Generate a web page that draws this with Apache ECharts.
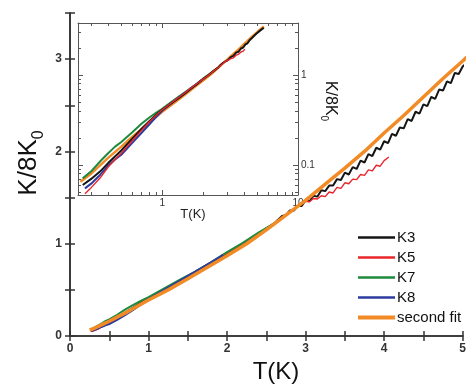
<!DOCTYPE html>
<html><head><meta charset="utf-8">
<script src="https://cdn.jsdelivr.net/npm/echarts@6/dist/echarts.min.js"></script>
<style>html,body{margin:0;padding:0;background:#fff}#c{width:469px;height:384px}</style>
</head><body><div id="c"></div>
<script>
// ---- data ----
const seriesNames = ['K3', 'K5', 'K7', 'K8', 'second fit'];

const k3T = [0.26,0.3,0.35,0.4,0.5,0.6,0.7,0.8,0.9,1.0,1.2,1.4,1.6,1.8,2.0,2.2,2.4,2.6,2.65,2.7,2.75,2.8,2.85,2.9,2.95,3.0,3.05,3.1,3.15,3.2,3.25,3.3,3.35,3.4,3.45,3.5,3.55,3.6,3.65,3.7,3.75,3.8,3.85,3.9,3.95,4.0,4.05,4.1,4.15,4.2,4.25,4.3,4.35,4.4,4.45,4.5,4.55,4.6,4.65,4.7,4.75,4.8,4.85,4.9,4.95,5.0,5.1,5.2,5.3,5.4,5.5,5.6];
const k3Y = [0.06,0.07,0.085,0.105,0.145,0.195,0.25,0.305,0.36,0.41,0.5,0.59,0.69,0.79,0.9,1.0,1.11,1.22,1.26,1.30,1.31,1.36,1.36,1.41,1.41,1.47,1.46,1.52,1.51,1.58,1.57,1.63,1.63,1.70,1.69,1.77,1.75,1.83,1.81,1.90,1.88,1.97,1.95,2.04,2.02,2.11,2.09,2.19,2.17,2.26,2.25,2.35,2.33,2.43,2.41,2.51,2.49,2.59,2.57,2.67,2.66,2.76,2.74,2.85,2.84,2.92,3.0,3.07,3.14,3.21,3.28,3.35];

const k5T = [0.27,0.3,0.35,0.4,0.45,0.5,0.6,0.7,0.8,0.9,1.0,1.2,1.4,1.6,1.8,2.0,2.2,2.4,2.6,2.8,2.9,2.95,3.0,3.05,3.1,3.15,3.2,3.25,3.3,3.35,3.4,3.45,3.5,3.55,3.6,3.65,3.7,3.75,3.8,3.85,3.9,3.95,4.0,4.06];
const k5Y = [0.048,0.056,0.072,0.095,0.115,0.135,0.185,0.24,0.3,0.355,0.41,0.505,0.6,0.7,0.8,0.9,1.0,1.11,1.22,1.34,1.41,1.43,1.46,1.455,1.49,1.485,1.52,1.51,1.56,1.55,1.61,1.60,1.66,1.65,1.70,1.695,1.75,1.74,1.80,1.79,1.85,1.84,1.90,1.94];

const k7T = [0.26,0.3,0.35,0.4,0.45,0.5,0.6,0.7,0.8,0.9,1.0,1.2,1.4,1.6,1.8,2.0,2.2,2.4,2.6];
const k7Y = [0.071,0.085,0.11,0.135,0.16,0.18,0.23,0.285,0.335,0.38,0.42,0.515,0.61,0.7,0.8,0.91,1.01,1.12,1.22];

const k8T = [0.27,0.3,0.35,0.4,0.45,0.5,0.6,0.7,0.8,0.9,1.0,1.2,1.4,1.6,1.8,1.95];
const k8Y = [0.055,0.062,0.078,0.098,0.115,0.13,0.175,0.225,0.28,0.34,0.4,0.5,0.6,0.7,0.8,0.88];

const fitT = [0.25,0.3,0.4,0.5,0.6,0.75,1.0,1.25,1.5,1.75,2.0,2.25,2.5,2.75,3.0,3.25,3.5,3.75,4.0,4.25,4.5,4.75,5.0,5.3,5.6];
const fitY = [0.065,0.08,0.12,0.16,0.205,0.27,0.39,0.5,0.62,0.745,0.87,1.0,1.15,1.31,1.47,1.645,1.82,2.0,2.2,2.39,2.59,2.79,2.98,3.22,3.45];

// inset tick values
const insetXLabels = [1, 10];
const insetXMinor = [0.3,0.4,0.5,0.6,0.7,0.8,0.9,2,3,4,5,6,7,8,9];
const insetYLabels = [0.1, 1];
const insetYMinor = [0.05,0.06,0.07,0.08,0.09,0.2,0.3,0.4,0.5,0.6,0.7,0.8,0.9,2,3];

// ---- chart ----
const FONT = "'Liberation Sans', Arial, sans-serif";
const colors = {K3:'#151515', K5:'#e8262b', K7:'#1e8a3e', K8:'#2d3c9e', 'second fit':'#f28a25'};
const widths = {K3:2, K5:1.4, K7:2, K8:2, 'second fit':3.5};
const dataOf = {K3:[k3T,k3Y], K5:[k5T,k5Y], K7:[k7T,k7Y], K8:[k8T,k8Y], 'second fit':[fitT,fitY]};
function pairs(name){ const [t,y]=dataOf[name]; return t.map((v,i)=>[v,y[i]]); }

const intFmt = v => (Math.abs(v - Math.round(v)) < 1e-9 ? String(Math.round(v)) : '');
const axCol = '#333';
const mainLine = () => ({show:true, lineStyle:{color:axCol, width:1.6}});
const mainTick = () => ({show:true, inside:false, length:-5, lineStyle:{color:axCol, width:1.5}});
const inCol = '#555';
const inLine = () => ({show:true, lineStyle:{color:inCol, width:1}});
const tk = (vals, len, inside) => ({show:true, inside:inside, length:len, customValues:vals, lineStyle:{color:inCol, width:1}});
const XR = [0.24, 10], YR = [0.0464, 3.78];
const hiddenX = gi => ({gridIndex:gi, type:'log', min:XR[0], max:XR[1], show:false});
const hiddenY = gi => ({gridIndex:gi, type:'log', min:YR[0], max:YR[1], show:false});

const IN = {left:78, top:23, width:220, height:172};
const grids = [
  {left:70, top:13, width:399, height:323},
  {left:IN.left, top:IN.top, width:IN.width, height:IN.height, show:true, backgroundColor:'#fff', borderWidth:0},
  {left:IN.left, top:IN.top, width:IN.width, height:IN.height},
  {left:IN.left+IN.width, top:IN.top, width:60, height:IN.height},
  {left:IN.left+IN.width, top:IN.top, width:60, height:IN.height},
  {left:IN.left, top:IN.top-10, width:IN.width, height:10},
  {left:IN.left, top:IN.top-10, width:IN.width, height:10}
];

const xAxes = [
  {gridIndex:0, type:'value', min:0, max:5, interval:0.5, position:'bottom', axisLine:mainLine(), axisTick:mainTick(), splitLine:{show:false},
   axisLabel:{formatter:intFmt, margin:7, fontSize:12, fontWeight:'bold', color:axCol, fontFamily:FONT}},
  {gridIndex:0, type:'value', min:0, max:5, interval:0.5, position:'top', axisLine:mainLine(), axisTick:mainTick(), splitLine:{show:false}, axisLabel:{show:false}},
  {gridIndex:1, type:'log', min:XR[0], max:XR[1], position:'bottom', axisLine:inLine(), splitLine:{show:false},
   axisTick:tk(insetXLabels,5,true), axisLabel:{customValues:insetXLabels, margin:3, fontSize:10, color:'#333', fontFamily:FONT}},
  {gridIndex:2, type:'log', min:XR[0], max:XR[1], position:'bottom', axisLine:{show:false}, splitLine:{show:false},
   axisTick:tk(insetXMinor,3,true), axisLabel:{show:false}},
  hiddenX(3), hiddenX(4),
  {gridIndex:5, type:'log', min:XR[0], max:XR[1], position:'bottom', axisLine:inLine(), splitLine:{show:false},
   axisTick:tk(insetXLabels,5,false), axisLabel:{show:false}},
  {gridIndex:6, type:'log', min:XR[0], max:XR[1], position:'bottom', axisLine:{show:false}, splitLine:{show:false},
   axisTick:tk(insetXMinor,3,false), axisLabel:{show:false}}
];
const yAxes = [
  {gridIndex:0, type:'value', min:0, max:3.5, interval:0.5, position:'left', axisLine:mainLine(), axisTick:mainTick(), splitLine:{show:false},
   axisLabel:{formatter:intFmt, margin:8, fontSize:12, fontWeight:'bold', color:axCol, fontFamily:FONT}},
  {gridIndex:0, type:'value', min:0, max:3.5, interval:0.5, position:'right', axisLine:mainLine(), axisTick:mainTick(), splitLine:{show:false}, axisLabel:{show:false}},
  {gridIndex:1, type:'log', min:YR[0], max:YR[1], position:'left', axisLine:inLine(), splitLine:{show:false},
   axisTick:tk(insetYLabels,5,true), axisLabel:{show:false}},
  {gridIndex:2, type:'log', min:YR[0], max:YR[1], position:'left', axisLine:{show:false}, splitLine:{show:false},
   axisTick:tk(insetYMinor,3,true), axisLabel:{show:false}},
  {gridIndex:3, type:'log', min:YR[0], max:YR[1], position:'left', axisLine:inLine(), splitLine:{show:false},
   axisTick:tk(insetYLabels,5,false),
   axisLabel:{customValues:insetYLabels, inside:true, margin:3, fontSize:10, color:'#333', fontFamily:FONT}},
  {gridIndex:4, type:'log', min:YR[0], max:YR[1], position:'left', axisLine:{show:false}, splitLine:{show:false},
   axisTick:tk(insetYMinor,3,false), axisLabel:{show:false}},
  hiddenY(5), hiddenY(6)
];

const series = [];
seriesNames.forEach(n => series.push({
  name:n, type:'line', xAxisIndex:0, yAxisIndex:0, data:pairs(n), symbol:'none', showSymbol:false, clip:true,
  color:colors[n], lineStyle:{color:colors[n], width:widths[n]}, z:2
}));
['second fit','K7','K8','K3','K5'].forEach((n,i) => series.push({
  name:n, type:'line', xAxisIndex:2, yAxisIndex:2, data:pairs(n), symbol:'none', showSymbol:false, clip:true,
  color:colors[n], lineStyle:{color:colors[n], width:Math.min(widths[n],2.5)}, z:10+i
}));

const titleFont = FONT;
const option = {
  animation:false,
  backgroundColor:'#fff',
  grid:grids, xAxis:xAxes, yAxis:yAxes, series:series,
  legend:{
    data:seriesNames.map(n => ({name:n, icon: n==='second fit' ? 'path://M0 0H37V4H0Z' : 'path://M0 0H37V2.6H0Z'})),
    orient:'vertical', left:358, top:230, padding:0, itemWidth:37, itemHeight:14, itemGap:5,
    textStyle:{fontSize:15, color:'#111', fontFamily:FONT, padding:[0,0,0,-3]}
  },
  graphic:[
    {type:'text', x:29, y:163, rotation:Math.PI/2, z:20,
     style:{text:'{a|K/8K}{b|0}', textAlign:'center', textVerticalAlign:'middle', align:'center', verticalAlign:'middle',
       rich:{a:{fontSize:26, fontFamily:titleFont, fill:'#111', lineHeight:36, verticalAlign:'middle'},
             b:{fontSize:16, fontFamily:titleFont, fill:'#111', lineHeight:16, verticalAlign:'bottom'}}}},
    {type:'text', x:276, y:372, z:20,
     style:{text:'T(K)', fontSize:24, fontFamily:titleFont, fill:'#111', textAlign:'center', textVerticalAlign:'middle', align:'center', verticalAlign:'middle'}},
    {type:'text', x:330, y:101, rotation:-Math.PI/2, z:20,
     style:{text:'{a|K/8K}{b|0}', textAlign:'center', textVerticalAlign:'middle', align:'center', verticalAlign:'middle',
       rich:{a:{fontSize:16, fontFamily:titleFont, fill:'#111', lineHeight:22, verticalAlign:'middle'},
             b:{fontSize:10, fontFamily:titleFont, fill:'#111', lineHeight:10, verticalAlign:'bottom'}}}},
    {type:'text', x:193, y:214, z:20,
     style:{text:'T(K)', fontSize:13, fontFamily:titleFont, fill:'#222', textAlign:'center', textVerticalAlign:'middle', align:'center', verticalAlign:'middle'}}
  ]
};
const chart = echarts.init(document.getElementById('c'), null, {renderer:'canvas'});
chart.setOption(option);
</script></body></html>
